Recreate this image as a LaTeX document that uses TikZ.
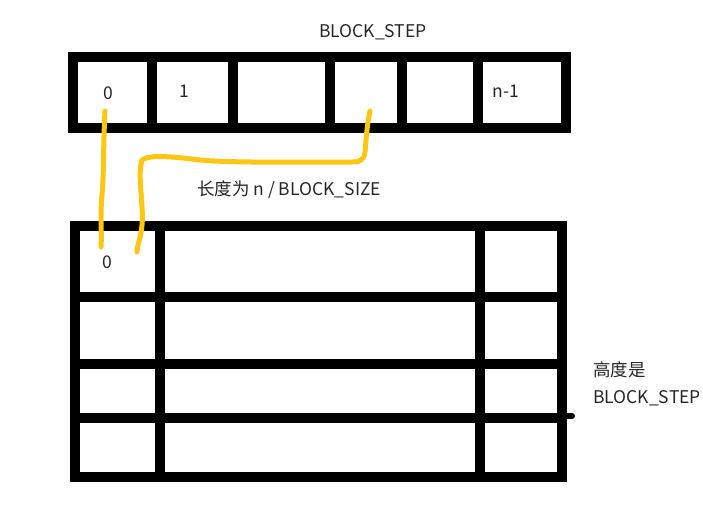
\documentclass[tikz,border=0pt]{standalone}
\usepackage{fontspec}
\setmainfont{Noto Sans CJK SC}
\usepackage{pgf,tikz}
\definecolor{penyellow}{RGB}{255,198,20}

\begin{document}
\begin{tikzpicture}[x=1pt, y=-1pt, line join=miter, every node/.style={font=\fontsize{17.5}{27}\selectfont, text=black!85}, grid/.style={line width=10pt, color=black}, brush/.style={line width=5pt, color=penyellow, line cap=round, line join=round}]
    \useasboundingbox (0,0) rectangle (703,512);

    % the array of BLOCK_STEP cells
    \draw [grid] (73,57) rectangle (566,128);
    \foreach \x in {152, 233, 330, 402, 478}
      \draw [grid] (\x,57) -- (\x,128);

    % the table below it
    \draw [grid] (75,226) rectangle (562,477);
    \foreach \x in {160, 480}
      \draw [grid] (\x,226) -- (\x,477);
    \foreach \y in {297, 364, 418}
      \draw [grid] (75,\y) -- (562,\y);
    \draw [grid, line width=6pt, line cap=round] (562,416) -- (572,416);

    \node (title) at (373,32) {BLOCK\_STEP};
    \node (cellA) at (108,93) {0};
    \node (cellB) at (184,91) {1};
    \node (cellN) at (506,91) {n-1};
    \node (rowA) at (107,262) {0};
    \node (width) at (289,190) {长度为 n / BLOCK\_SIZE};
    \node [align=left, anchor=west, inner sep=0pt] (height) at (593,384) {高度是\\BLOCK\_STEP};

    \coordinate (srcA) at (105,111);
    \coordinate (srcB) at (370,111);
    \coordinate (dstA) at (101,247);
    \coordinate (dstB) at (137,252);

    \draw [brush] (srcA) .. controls (103,150) and (104,175) .. (102,195) .. controls (100,215) and (102,235) .. (dstA);
    \draw [brush] (srcB) .. controls (366,130) and (366,145) .. (365,152)
      .. controls (364,160) and (360,162) .. (352,162)
      .. controls (300,162) and (230,163) .. (200,160)
      .. controls (175,157) and (150,154) .. (142,160)
      .. controls (137,175) and (144,205) .. (142,225)
      .. controls (141,238) and (137,245) .. (dstB);
  \end{tikzpicture}
\end{document}
